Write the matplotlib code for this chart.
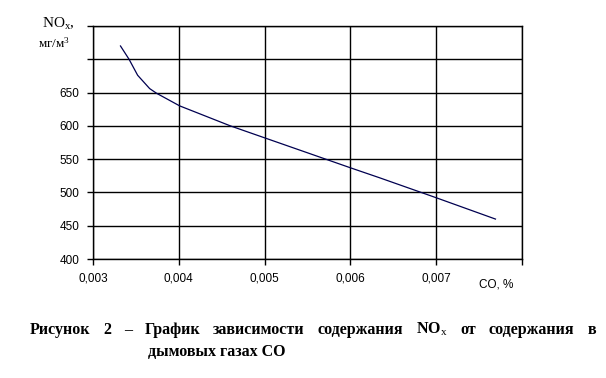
import numpy as np
import matplotlib
matplotlib.use("Agg")
from matplotlib import pyplot as plt

# CO content, % and NOx, mg/m3
co = [0.00332, 0.00342, 0.00352, 0.00359, 0.00366, 0.00374, 0.00401,
      0.0046, 0.005, 0.006, 0.00634, 0.007, 0.00769]
nox = [720, 700, 676, 666, 656, 649, 630, 600, 582, 537, 522, 492, 460]

x_ticks = [0.003, 0.004, 0.005, 0.006, 0.007, 0.008]
x_labels = ["0,003", "0,004", "0,005", "0,006", "0,007", ""]
y_ticks = [400, 450, 500, 550, 600, 650, 700, 750]
y_labels = ["400", "450", "500", "550", "600", "650", "", ""]

caption_words = ["Рисунок", "2", "–", "График", "зависимости", "содержания",
                 "NO$_\\mathrm{x}$", "от", "содержания", "в"]

plt.rcParams["mathtext.fontset"] = "custom"
plt.rcParams["mathtext.rm"] = "Liberation Serif"
plt.rcParams["mathtext.it"] = "Liberation Serif"

fig = plt.figure(figsize=(6.06, 3.78), dpi=100)
ax = fig.add_axes([0.1535, 0.3148, 0.708, 0.6164])

ax.plot(co, nox, color="#000050", lw=0.9)

ax.set_xlim(0.003, 0.008)
ax.set_ylim(400, 750)
ax.set_xticks(x_ticks)
ax.set_xticklabels(x_labels)
ax.set_yticks(y_ticks)
ax.set_yticklabels(y_labels)
ax.grid(True, color="black", lw=1)
for s in ax.spines.values():
    s.set_color("black")
    s.set_linewidth(1)
ax.tick_params(direction="out", length=4, width=1, colors="black",
               labelsize=8.5, pad=6)
for lbl in ax.get_xticklabels() + ax.get_yticklabels():
    lbl.set_family("Liberation Sans")

fig.text(0.07, 0.937, "NO$_x$,", family="Liberation Serif", fontsize=11,
         va="center", ha="left")
fig.text(0.062, 0.885, "мг/м$^3$", family="Liberation Serif", fontsize=9.5,
         va="center", ha="left")
fig.text(0.79, 0.248, "CO, %", family="Liberation Sans", fontsize=8.5,
         va="center", ha="left")

# first caption line is justified between x=30 and x=596 px
left_px, right_px = 30, 596
texts = [fig.text(0, 0.128, w, family="Liberation Serif", weight="bold",
                  fontsize=11.5, ha="left", va="center")
         for w in caption_words]
fig.canvas.draw()
r = fig.canvas.get_renderer()
widths = [t.get_window_extent(r).width for t in texts]
gap = (right_px - left_px - sum(widths)) / (len(texts) - 1)
x = left_px
for t, w in zip(texts, widths):
    t.set_x(x / 606)
    x += w + gap

fig.text(0.244, 0.068, "дымовых газах CO", family="Liberation Serif",
         weight="bold", fontsize=11.5, ha="left", va="center")

fig.savefig("out.png", dpi=100)
